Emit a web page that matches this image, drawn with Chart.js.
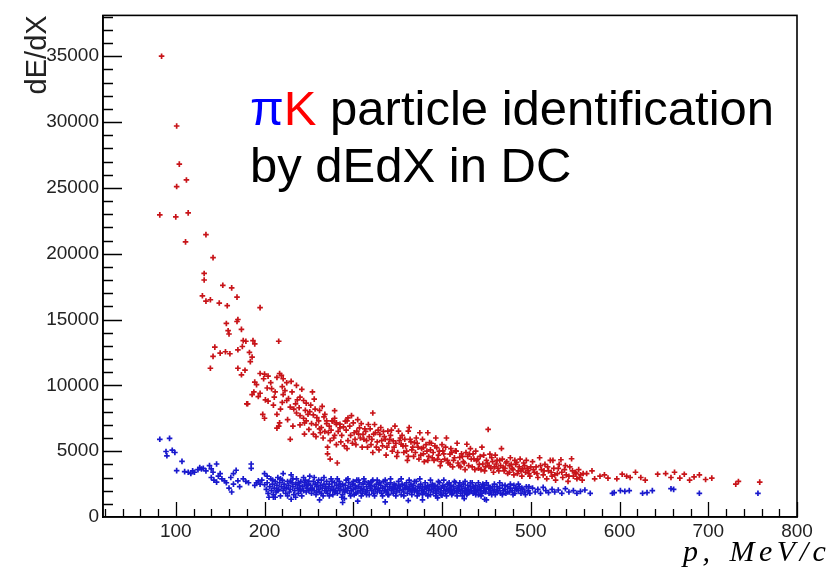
<!DOCTYPE html>
<html>
<head>
<meta charset="utf-8">
<script src="https://cdn.jsdelivr.net/npm/chart.js@4/dist/chart.umd.min.js"></script>
<style>
  html, body { margin: 0; padding: 0; background: #fff; }
  #wrap { position: relative; width: 838px; height: 577px; overflow: hidden; }
  #c { position: absolute; left: 0; top: 0; }
  #note { position: absolute; left: 250px; top: 80px; font-family: 'Liberation Sans', Arial, sans-serif; font-size: 49px; line-height: 57px; color: #000; white-space: nowrap; }
  #xtitle { position: absolute; left: 683px; top: 534px; font-family: 'Liberation Serif', 'Times New Roman', serif; font-style: italic; font-size: 30px; line-height: 34px; letter-spacing: 4.5px; word-spacing: 3px; color: #000; white-space: nowrap; }
</style>
</head>
<body>
<div id="wrap">
  <canvas id="c" width="838" height="577"></canvas>
  <div id="note"><span style="color:#0000ff">π</span><span style="color:#ff0000">K</span> particle identification<br>by dEdX in DC</div>
  <div id="xtitle">p, MeV/c</div>
</div>
<script>
// ---- axis ticks ----
const xTickValues = [100, 200, 300, 400, 500, 600, 700, 800];
const yTickValues = [0, 5000, 10000, 15000, 20000, 25000, 30000, 35000];
const xRange = [18, 800];
const yRange = [0, 38100];
const yTitle = 'dE/dX';

// ---- kaons (red): [p, dE/dX] ----
const kaonPoints = [
  [84,35000],[101,29700],[104,26800],[112,25600],[101,25100],[82,22950],[100,22800],[114,23100],[134,21450],[111,20900],
  [142,19700],[132,18500],[132,18000],[153,17600],[163,17400],[169,16700],[130,16800],[134,16400],[139,16500],[149,16250],
  [158,16050],[195,15900],[170,15000],[169,14850],[157,14700],[159,14150],[160,13900],[174,14250],[176,13400],[179,13350],
  [189,13150],[144,12900],[142,12200],[150,12450],[156,12550],[161,12400],[170,12700],[175,12950],[183,12500],[186,12150],
  [187,13400],[139,11300],[170,11300],[174,10800],[178,11150],[216,13350],[184,11800],
  [195,10900],[199,10500],[204,10700],[200,10850],[214,10600],[217,10900],[221,10500],[219,10750],[189,10250],[191,10050],
  [225,10200],[230,10300],[236,10000],[186,9300],[188,9500],[193,9150],[195,9400],[208,9750],[212,9500],[220,9900],
  [221,9300],[220,8700],[181,8600],[180,8600],[201,8900],[204,8800],[210,8500],[225,8850],[229,8350],[237,8900],
  [240,9100],[244,8850],[247,8650],[252,8500],[254,9500],[256,8950],[233,8200],[236,7900],[240,7700],[244,7500],
  [247,7300],[251,8000],[255,7750],[259,7550],[262,8100],[265,8400],[268,7800],[270,7300],[198,7800],[200,7500],
  [214,7800],[216,6900],[217,7150],[214,6750],[229,5900],[240,7000],[245,7150],[250,6650],[255,6300],[258,6100],
  [262,6700],[270,7100],[273,6900],[276,7300],[279,7500],[281,7150],[285,7050],[289,6850],[293,7300],[266,6000],
  [271,5300],[274,5800],[278,6000],[281,5500],[286,5700],[290,5400],[293,5200],[294,5800],[271,4800],[274,4400],
  [282,4100],[245,6300],[258,7000],[263,6400],[268,6500],[226,7400],[232,6900],
  [279,8075],[277,7275],[281,7025],[285,6775],[291,7275],[294,7525],[300,7150],[304,6525],[307,6775],[311,6275],
  [317,7025],[322,7900],[324,7025],[330,6275],[336,5900],[339,6525],[345,5775],[351,6525],[354,5525],[362,6525],
  [364,5900],[369,5650],[375,6400],[379,5275],[384,6400],[386,5650],[390,4900],[394,5275],[401,5025],[409,4775],
  [415,5025],[420,4525],[428,5525],[431,4775],[439,4275],[446,4025],[452,6650],[454,4775],[461,4025],[469,3775],
  [476,3900],[484,4150],[491,3650],[497,3525],
  [297,6200],[299,5600],[302,5900],[305,7400],[308,6000],[310,5300],[313,6700],[315,5800],[318,6100],[320,5500],
  [322,4900],[325,6400],[327,5700],[329,5100],[331,6800],[333,5400],[335,6100],[337,4700],[340,5600],[342,6200],
  [344,5000],[347,6900],[349,4600],[352,5800],[355,6200],[357,4900],[359,5400],[361,4300],[363,6800],[366,5100],
  [368,4600],[371,6000],[373,5300],[376,4700],[378,5900],[380,4200],[383,5000],[385,4600],[388,5600],[391,4300],
  [393,6000],[396,4700],[398,3900],[400,5500],[403,4400],[405,6000],[407,4100],[410,5200],[412,3800],[414,4500],
  [417,5600],[419,3900],[422,4800],[424,4200],[426,3600],[429,4600],[432,5200],[434,3800],[436,4400],[438,5000],
  [441,3700],[443,4600],[445,5300],[448,3500],[450,4300],[453,3900],[456,4500],[458,3400],[460,4700],[463,3700],
  [465,4300],[467,5200],[470,3500],[472,4100],[474,3300],[477,4500],[479,3700],[481,3200],[483,4000],[486,3500],
  [488,4400],[490,3100],[493,3900],[495,4300],[498,3300],[500,3800],
  [502,4200],[504,3400],[506,3800],[508,3000],[510,4500],[512,3600],[514,3200],[516,4000],[518,2900],[520,3500],
  [522,4300],[524,3100],[526,3700],[528,2800],[530,3300],[532,4000],[534,4350],[536,3000],[538,3600],[540,3200],
  [542,2700],[544,3800],[546,4425],[548,3100],[550,3400],[552,2900],[554,3600],[556,3200],[558,2800],[525,4300],
  [563,3300],[569,3500],[572,2900],[578,3100],[583,3200],[587,2950],[597,2900],[603,3250],[608,3100],[612,3000],
  [618,3400],[624,3000],[629,2800],[643,3250],[652,3300],[658,3000],[662,3400],[668,2950],[673,3250],[679,2800],
  [684,3050],[690,3200],[697,2850],[704,2950],[731,2500],[734,2700],[758,2650],
  [203,9800],[207,10200],[211,9100],[218,8200],[223,9600],[227,9000],[231,9500],[235,8600],[239,8300],[242,9700],
  [246,8100],[249,7800],[253,7100],[257,8200],[261,7300],[264,6800],[267,7600],[272,6400],[275,6600],[279,6200],
  [283,6500],[287,6200],[292,6600],[296,6900],[298,7700],[301,6400],[303,5500],[306,6300],[309,7100],[312,5900],
  [314,6500],[316,5300],[319,6700],[321,5900],[323,6300],[326,5300],[328,6600],[332,5800],[334,6500],[338,5300],
  [341,5900],[343,6600],[346,5300],[348,5600],[350,4900],[353,6000],[356,5400],[358,5900],[360,5000],[362,4600],
  [365,5700],[367,5300],[370,4900],[372,5600],[374,4400],[377,5200],[379,4800],[382,5500],[384,4300],[387,5100],
  [389,4500],[392,5400],[395,4400],[397,5000],[399,4200],[402,4800],[404,5300],[406,4300],[409,4000],[411,4900],
  [413,4300],[416,5000],[418,4100],[421,3800],[423,4600],[425,4100],[427,4900],[430,3900],[433,4400],[435,4800],
  [437,3600],[440,4400],[442,4000],[444,3600],[447,4700],[449,3800],[451,4100],[455,3700],[457,4200],[459,3800],
  [462,4300],[464,3500],[466,3900],[468,4400],[471,3700],[473,4200],[476,3400],[478,4000],[480,3600],[482,4300],
  [485,3300],[487,3800],[489,3500],[492,4100],[494,3400],[496,3700],[499,3100],[503,3600],[507,3300],[511,3900],
  [515,3500],[519,3800],[523,3400],[527,3200],[531,3700],[535,3400],[539,3900],[543,3100],[547,3500],[551,3300],
  [555,3000],[559,3300]
];

// ---- pions (blue): [p, dE/dX] ----
const pionPoints = [
  [82,5900],[93,5975],[89,4975],[90,4650],[96,5075],[99,4900],[107,4225],[101,3525],[114,3400],[119,3500],
  [121,3400],[125,3600],[127,3750],[129,3650],[131,3700],[138,3900],[146,4025],[140,3650],[142,3400],[140,3000],
  [143,2800],[146,2650],[148,3100],[152,2900],[157,2600],[162,3000],[165,3300],[168,3550],[165,2500],[163,1900],
  [176,2900],[179,2700],[182,2600],[185,3700],[185,4025],[189,2400],[191,2600],[193,2750],[195,2500],[197,2800],
  [200,2450],[200,3300],[172,2300],[170,2750],[150,3300],[134,3500],[117,3300],[110,3450],[155,2750],[160,2200],
  [202,2100],[203,2600],[204,1800],[206,2300],[207,2900],[208,2000],[209,2500],[210,1700],[211,2200],[212,2700],
  [213,1900],[214,2400],[215,3000],[216,2100],[217,2600],[218,1600],[219,2300],[220,2800],[221,2000],[222,2500],
  [224,1800],[225,2200],[226,2700],[227,2400],[228,1900],[229,2100],[230,3200],[231,2600],[232,2300],[233,1700],
  [234,2000],[235,2500],[236,2900],[237,2200],[238,1800],[239,2400],[240,2100],[241,2700],[242,1600],[243,2300],
  [244,2000],[245,2600],[246,2800],[247,1900],[248,2200],[249,2500],[250,2000],[251,3100],[252,2400],[253,1800],
  [254,2200],[255,2700],[256,2000],[257,2500],[258,1700],[259,2300],
  [260,2600],[261,2100],[262,1900],[263,2400],[264,2800],[265,2200],[266,1600],[267,2500],[268,2000],[269,2300],
  [270,2700],[271,1800],[272,2200],[273,2500],[274,2000],[275,2900],[276,2300],[277,1700],[278,2100],[279,2600],
  [280,2000],[281,2400],[282,1800],[283,2200],[284,2700],[285,2000],[286,2300],[287,1500],[288,2500],[289,2100],
  [290,1900],[290,1400],[291,2400],[292,2800],[293,2000],[294,2200],[295,2600],[296,1800],[297,2300],[298,2000],
  [299,2500],[300,2100],[301,1700],[302,2400],[303,2200],[304,2800],[305,1900],[306,2300],[307,2600],[308,2000],
  [309,2200],[310,1800],[311,2500],[312,2100],[313,2700],[314,1900],[315,2300],[316,2000],[317,2600],[318,1700],
  [319,2200],[320,2400],[321,2000],[322,2800],[323,1800],[324,2300],[325,2100],[326,2500],[327,1900],[328,2200],
  [329,2600],
  [330,2000],[331,2400],[332,1800],[333,2200],[334,2700],[335,2000],[336,1150],[336,2300],[337,1900],[338,2500],
  [339,2100],[340,1700],[341,2300],[342,2600],[343,2000],[344,2200],[345,1800],[346,2500],[347,2100],[348,2400],
  [349,1900],[350,2200],[351,2700],[352,2000],[353,2300],[354,1700],[355,2500],[356,2100],[357,1900],[358,2400],
  [359,2200],[360,2600],[361,1800],[362,2100],[363,2300],[364,2000],[365,2500],[366,1700],[367,2200],[368,2400],
  [369,1900],[370,2100],[371,2700],[372,2000],[373,2300],[374,1800],[375,2200],[376,2500],[377,2000],[378,2300],
  [379,1900],[380,2100],[381,2600],[382,1800],[383,2200],[384,2400],[385,2000],[386,2300],[387,1700],[388,2100],
  [389,2500],[390,1900],[391,2200],[392,2400],[393,2000],[394,1800],[395,2300],[396,2100],[397,2600],[398,1900],
  [399,2200],[400,1650],[401,2400],[402,2000],[403,2300],[404,1800],[405,2100],[406,2500],[407,2000],[408,2200],
  [409,1900],[410,2400],[411,2100],[412,1800],[413,2300],[414,2000],[415,2600],[416,1900],[417,2200],[418,2000],
  [419,2400],
  [420,2100],[421,1800],[422,2300],[423,2000],[424,2500],[425,1900],[426,2200],[427,2000],[428,1700],[429,2400],
  [430,2100],[431,1900],[432,2300],[433,2000],[434,2600],[435,1800],[436,2200],[437,2000],[438,2400],[439,1900],
  [440,2100],[441,1700],[442,2300],[443,2000],[444,2200],[445,1800],[446,2500],[447,2000],[448,2200],[449,1900],
  [450,1300],[450,2100],[452,2400],[453,1800],[454,2200],[455,2000],[457,2300],[458,1900],[459,2100],[460,1700],
  [462,2300],[463,2000],[465,2200],[466,1800],[468,2400],[469,2000],[471,2100],[472,1800],[474,2300],[476,1900],
  [477,2200],[479,2000],[481,2400],[482,1800],[484,2100],[486,2000],[487,2300],[489,1800],[491,2100],[493,1900],
  [495,2300],[497,2000],[499,1800],
  [502,2200],[505,1900],[508,2100],[511,1800],[514,2250],[517,2000],[520,1850],[524,2100],[527,1900],[531,2050],
  [535,1800],[539,2150],[543,1900],[548,2000],[552,1800],[556,1950],[561,2050],[567,1800],
  [592,1800],[594,1850],[601,2000],[606,1950],[611,2000],[626,1800],[631,1850],[637,2000],[658,2150],[661,2100],
  [690,1800],[756,1800],
  [288,1100],[305,1200],[362,1250],[378,1300],[425,1400],[448,1350],[262,1300],[230,1350],[210,1500],[395,1450],
  [203,3100],[205,1500],[209,2800],[212,1500],[215,2000],[218,2900],[221,3300],[223,2200],[226,1600],[229,2700],
  [232,2900],[235,1500],[238,2600],[241,2000],[244,3000],[247,2400],[250,2700],[253,2100],[256,3000],[259,1900],
  [261,2800],[264,1800],[267,3000],[270,2000],[273,1600],[276,2700],[279,1900],[282,2900],[285,2500],[288,1700],
  [291,2000],[294,2900],[297,1600],[300,2700],[303,1800],[306,2800],[309,1600],[312,2900],[315,1700],[318,2500],
  [321,2700],[324,1600],[327,2800],[330,2600],[333,1600],[336,2800],[339,1700],[342,2900],[345,2300],[348,1600],
  [351,2400],[354,2900],[357,1600],[360,2300],[363,2800],[366,2000],[369,2700],[372,1600],[375,2900],[378,1700],
  [381,2300],[384,1600],[387,2800],[390,2400],[393,1600],[396,2700],[399,1700],[402,2800],[405,1600],[408,2600],
  [411,1700],[414,2700],[417,1600],[420,2600],[423,1600],[426,2700],[429,1800],[432,2600],[435,2300],[438,1700],
  [441,2600],[444,1600],[447,2400],[450,2600],[453,2200],[456,1700],[459,2500],[462,1900],[465,2600],[468,1700],
  [471,2400],[474,1900],[477,2500],[480,1700],[483,2200],[486,2500],[490,2200],[494,1700],[498,2300]
];

const toXY = arr => arr.map(([p, e]) => ({x: p, y: e}));

const frameTicks = {
  id: 'frameTicks',
  afterDatasetsDraw(chart) {
    const {ctx, chartArea: a, scales: {x, y}} = chart;
    ctx.save();
    ctx.strokeStyle = '#000';
    ctx.lineWidth = 1.3;
    ctx.beginPath();
    for (let v = 20; v <= xRange[1]; v += 20) {
      if (v <= xRange[0]) continue;
      const px = Math.round(x.getPixelForValue(v)) + 0.5;
      const len = v % 100 === 0 ? 15 : 8;
      ctx.moveTo(px, a.bottom);
      ctx.lineTo(px, a.bottom - len);
    }
    for (let v = 1000; v <= yRange[1]; v += 1000) {
      const py = Math.round(y.getPixelForValue(v)) + 0.5;
      const len = v % 5000 === 0 ? 19 : 10;
      ctx.moveTo(a.left, py);
      ctx.lineTo(a.left + len, py);
    }
    ctx.stroke();
    ctx.lineWidth = 1.6;
    ctx.strokeRect(a.left, a.top, a.right - a.left, a.bottom - a.top);
    ctx.restore();
  }
};

new Chart(document.getElementById('c'), {
  type: 'scatter',
  data: {
    datasets: [
      {
        label: 'K',
        data: toXY(kaonPoints),
        pointStyle: 'cross',
        pointRadius: 2.8,
        borderWidth: 1.7,
        borderColor: 'rgb(200,20,25)',
        backgroundColor: 'rgb(200,20,25)'
      },
      {
        label: 'π',
        data: toXY(pionPoints),
        pointStyle: 'cross',
        pointRadius: 2.8,
        borderWidth: 1.7,
        borderColor: 'rgb(25,25,205)',
        backgroundColor: 'rgb(25,25,205)'
      }
    ]
  },
  options: {
    responsive: false,
    devicePixelRatio: 1,
    animation: false,
    layout: { padding: { left: 0, top: 8, right: 41, bottom: 0 } },
    plugins: { legend: { display: false }, tooltip: { enabled: false } },
    scales: {
      x: {
        type: 'linear',
        min: xRange[0],
        max: xRange[1],
        afterBuildTicks: s => { s.ticks = xTickValues.map(v => ({value: v})); },
        afterFit: s => { s.height = 60; },
        grid: { display: false, drawTicks: false },
        border: { display: true, color: '#000', width: 1.6 },
        ticks: { color: '#222', font: { family: "'Liberation Sans', Arial", size: 19 }, padding: 3, maxRotation: 0, autoSkip: false }
      },
      y: {
        type: 'linear',
        min: yRange[0],
        max: yRange[1],
        afterBuildTicks: s => { s.ticks = yTickValues.map(v => ({value: v})); },
        afterFit: s => { s.width = 103; },
        grid: { display: false, drawTicks: false },
        border: { display: true, color: '#000', width: 1.6 },
        ticks: { color: '#222', font: { family: "'Liberation Sans', Arial", size: 19 }, padding: 4, autoSkip: false, callback: v => String(v) },
        title: { display: true, text: yTitle, align: 'end', color: '#222', font: { family: "'Liberation Sans', Arial", size: 29 }, padding: { top: 21, bottom: 0 } }
      }
    }
  },
  plugins: [frameTicks]
});
</script>
</body>
</html>
